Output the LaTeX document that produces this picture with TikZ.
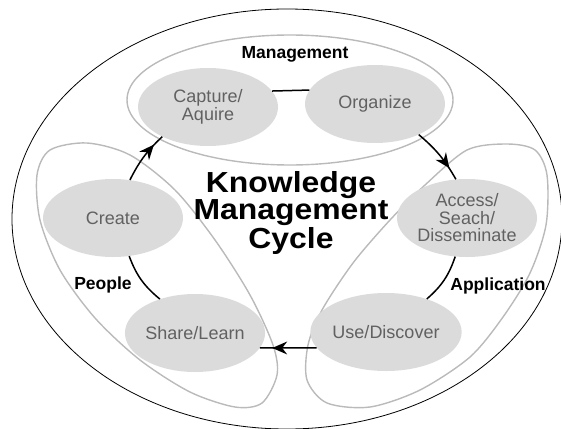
\documentclass[tikz,border=0pt]{standalone}
\usepackage{fontspec}
\setmainfont{Liberation Sans}
\newfontfamily\titlefont[FakeStretch=1.1]{Liberation Sans}
\usetikzlibrary{shapes.geometric,decorations.markings}

\begin{document}
\begin{tikzpicture}[x=1pt,y=-1pt,
    stage/.style={ellipse,fill=black!14,inner sep=0,align=center,text=black!62,
        minimum width=\blobwidth*1pt,minimum height=\blobheight*1pt,font=\blobfontsize},
    lobe/.style={draw=black!27,line width=1.4pt},
    group/.style={font=\labelfontsize\bfseries},
    link/.style={line width=1.5pt},
    flow/.style={link,postaction={decorate},
        decoration={markings,mark=at position 0.66 with {\fill (7pt,0pt) -- (-8pt,6.5pt) -- (-3pt,0pt) -- (-8pt,-6.5pt) -- cycle;}}}]
    \pgfmathsetmacro{\blobwidth}{140}
    \pgfmathsetmacro{\blobheight}{78}
    \providecommand{\blobfontsize}{\fontsize{18}{17.5}\selectfont}
    \providecommand{\labelfontsize}{\fontsize{17.5}{20}\selectfont}
    \providecommand{\titlefontsize}{\fontsize{29}{25}\selectfont}
    \useasboundingbox (0,0) rectangle (561,428);
    % outer frame
    \draw[line width=0.8pt] (287,219) ellipse [x radius=275, y radius=210];
    % the three groups
    \draw[lobe] (290,100) ellipse [x radius=163, y radius=65];
    \draw[lobe] plot[smooth cycle] coordinates {(37,175) (50,150) (87,143) (130,155) (175,190) (215,240) (250,295) (273,345) (277,375) (262,403) (235,407) (190,392) (140,360) (95,318) (60,270) (40,220)};
    \draw[lobe] plot[smooth cycle] coordinates {(467,150) (507,144) (535,150) (547,175) (546,225) (530,273) (503,317) (470,357) (420,390) (370,407) (327,403) (307,380) (308,345) (322,310) (353,263) (390,220) (425,185)};
    \node[stage] (capture) at (208,107) {Capture/\\Aquire};
    \node[stage] (organize) at (375,104) {Organize};
    \node[stage] (create) at (113,218) {Create};
    \node[stage] (access) at (467,218) {Access/\\Seach/\\Disseminate};
    \node[stage] (share) at (195,333) {Share/Learn};
    \node[stage] (use) at (386,332) {Use/Discover};
    \draw[flow] (create.66) to[bend left=10] (capture.213);
    \draw[link] (capture.14) -- (organize.168);
    \draw[flow] (organize.325) to[bend left=10] (access.106);
    \draw[link] (access.253) to[bend left=15] (use.39);
    \draw[flow] (use.193) -- (share.-13);
    \draw[link] (create.293) to[bend right=15] (share.136);
    \node[group] (management) at (295,54) {Management};
    \node[group] (people) at (103,285) {People};
    \node[group] (application) at (498,286) {Application};
    \node[align=center,font=\titlefont\titlefontsize\bfseries] (title) at (291,213) {Knowledge\\Management\\Cycle};
\end{tikzpicture}
\end{document}
